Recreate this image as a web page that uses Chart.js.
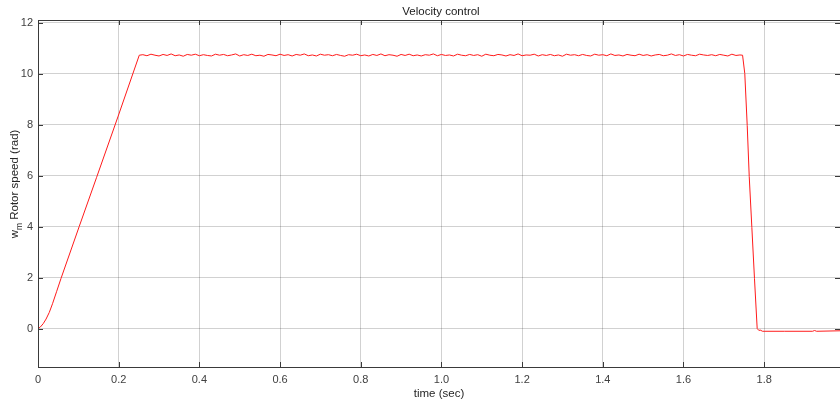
<!DOCTYPE html>
<html>
<head>
<meta charset="utf-8">
<script src="https://cdn.jsdelivr.net/npm/chart.js@4/dist/chart.umd.min.js"></script>
<style>
  body { margin: 0; background: #fff; }
  #wrap { width: 840px; height: 403px; position: relative; }
</style>
</head>
<body>
<div id="wrap"><canvas id="vitesse"></canvas></div>
<script>
// textes du graphique
var chartTitle = 'Velocity control';
var xLabel = 'time (sec)';
var yLabelMain = 'w';
var yLabelSub = 'm';
var yLabelRest = ' Rotor speed (rad)';

// graduations
var xTicks = [0, 0.2, 0.4, 0.6, 0.8, 1, 1.2, 1.4, 1.6, 1.8];
var yTicks = [0, 2, 4, 6, 8, 10, 12];

// montee (rampe)
var rampTimes  = [0, 0.006, 0.013, 0.02, 0.028, 0.036, 0.046, 0.057, 0.102, 0.145, 0.198, 0.251];
var rampValues = [0, 0.07, 0.2, 0.38, 0.64, 0.98, 1.45, 1.97, 4.0, 5.92, 8.3, 10.72];

// palier (vitesse stable avec ondulation)
var plateauTimes = [
  0.26, 0.27, 0.28, 0.29, 0.30, 0.31, 0.32, 0.33, 0.34, 0.35,
  0.36, 0.37, 0.38, 0.39, 0.40, 0.41, 0.42, 0.43, 0.44, 0.45,
  0.46, 0.47, 0.48, 0.49, 0.50, 0.51, 0.52, 0.53, 0.54, 0.55,
  0.56, 0.57, 0.58, 0.59, 0.60, 0.61, 0.62, 0.63, 0.64, 0.65,
  0.66, 0.67, 0.68, 0.69, 0.70, 0.71, 0.72, 0.73, 0.74, 0.75,
  0.76, 0.77, 0.78, 0.79, 0.80, 0.81, 0.82, 0.83, 0.84, 0.85,
  0.86, 0.87, 0.88, 0.89, 0.90, 0.91, 0.92, 0.93, 0.94, 0.95,
  0.96, 0.97, 0.98, 0.99, 1.00, 1.01, 1.02, 1.03, 1.04, 1.05,
  1.06, 1.07, 1.08, 1.09, 1.10, 1.11, 1.12, 1.13, 1.14, 1.15,
  1.16, 1.17, 1.18, 1.19, 1.20, 1.21, 1.22, 1.23, 1.24, 1.25,
  1.26, 1.27, 1.28, 1.29, 1.30, 1.31, 1.32, 1.33, 1.34, 1.35,
  1.36, 1.37, 1.38, 1.39, 1.40, 1.41, 1.42, 1.43, 1.44, 1.45,
  1.46, 1.47, 1.48, 1.49, 1.50, 1.51, 1.52, 1.53, 1.54, 1.55,
  1.56, 1.57, 1.58, 1.59, 1.60, 1.61, 1.62, 1.63, 1.64, 1.65,
  1.66, 1.67, 1.68, 1.69, 1.70, 1.71, 1.72, 1.73, 1.74
];
var plateauValues = [
  10.74, 10.70, 10.76, 10.72, 10.69, 10.75, 10.71, 10.77, 10.70, 10.73,
  10.68, 10.75, 10.72, 10.76, 10.70, 10.74, 10.71, 10.69, 10.76, 10.72,
  10.75, 10.70, 10.73, 10.77, 10.69, 10.74, 10.71, 10.76, 10.70, 10.72,
  10.68, 10.75, 10.73, 10.70, 10.76, 10.71, 10.74, 10.69, 10.75, 10.72,
  10.77, 10.70, 10.73, 10.69, 10.76, 10.72, 10.74, 10.70, 10.75, 10.71,
  10.68, 10.74, 10.72, 10.76, 10.70, 10.73, 10.69, 10.75, 10.71, 10.77,
  10.70, 10.74, 10.72, 10.68, 10.75, 10.71, 10.76, 10.70, 10.73, 10.69,
  10.74, 10.72, 10.77, 10.70, 10.75, 10.71, 10.73, 10.69, 10.76, 10.72,
  10.70, 10.75, 10.71, 10.74, 10.68, 10.76, 10.72, 10.70, 10.75, 10.73,
  10.69, 10.74, 10.71, 10.77, 10.70, 10.73, 10.72, 10.76, 10.69, 10.74,
  10.71, 10.75, 10.70, 10.73, 10.68, 10.76, 10.72, 10.74, 10.70, 10.75,
  10.71, 10.69, 10.76, 10.72, 10.74, 10.70, 10.77, 10.71, 10.73, 10.69,
  10.75, 10.72, 10.70, 10.76, 10.71, 10.74, 10.69, 10.73, 10.75, 10.70,
  10.72, 10.77, 10.71, 10.74, 10.69, 10.75, 10.72, 10.70, 10.76, 10.73,
  10.71, 10.74, 10.70, 10.75, 10.72, 10.69, 10.76, 10.71, 10.73
];

// descente et arret
var dropTimes  = [1.7465, 1.752, 1.758, 1.763, 1.7695, 1.776, 1.7827, 1.787, 1.79, 1.796, 1.85, 1.92, 1.925, 1.93, 1.99];
var dropValues = [10.72, 10.0, 7.97, 5.97, 3.97, 1.97, 0.01, -0.07, -0.05, -0.1, -0.1, -0.1, -0.07, -0.1, -0.08];

// assembler les points {x, y}
var allTimes = rampTimes.concat(plateauTimes, dropTimes);
var allValues = rampValues.concat(plateauValues, dropValues);
var points = allTimes.map(function (t, i) { return { x: t, y: allValues[i] }; });

var tickFont = { family: '"Liberation Sans", Arial, sans-serif', size: 11 };
var labelFont = '11.5px "Liberation Sans", Arial, sans-serif';
var subFont = '8.5px "Liberation Sans", Arial, sans-serif';
var axisColor = '#404040';

// plugin : cadre, graduations interieures, titre et etiquettes d'axes
var matlabLook = {
  id: 'matlabLook',
  afterDraw: function (chart) {
    var c = chart.ctx;
    var a = chart.chartArea;
    var xs = chart.scales.x;
    var ys = chart.scales.y;
    c.save();
    c.strokeStyle = '#3a3a3a';
    c.lineWidth = 1;
    c.strokeRect(a.left + 0.5, a.top + 0.5, a.right - a.left, a.bottom - a.top);
    c.beginPath();
    xTicks.forEach(function (v) {
      var px = Math.round(xs.getPixelForValue(v)) + 0.5;
      c.moveTo(px, a.bottom); c.lineTo(px, a.bottom - 5);
      c.moveTo(px, a.top); c.lineTo(px, a.top + 5);
    });
    yTicks.forEach(function (v) {
      var py = Math.round(ys.getPixelForValue(v)) + 0.5;
      c.moveTo(a.left, py); c.lineTo(a.left + 5, py);
      c.moveTo(a.right, py); c.lineTo(a.right - 5, py);
    });
    c.stroke();

    c.fillStyle = '#1a1a1a';
    c.font = labelFont;
    c.textAlign = 'center';
    c.textBaseline = 'middle';
    c.fillText(chartTitle, (a.left + a.right) / 2 + 2, 12);
    c.fillStyle = '#262626';
    c.fillText(xLabel, (a.left + a.right) / 2, 394);

    // etiquette y avec indice
    c.translate(15, 184);
    c.rotate(-Math.PI / 2);
    c.textAlign = 'left';
    var wMain = c.measureText(yLabelMain).width;
    var wRest = c.measureText(yLabelRest).width;
    c.font = subFont;
    var wSub = c.measureText(yLabelSub).width;
    var start = -(wMain + wSub + wRest) / 2;
    c.font = labelFont;
    c.fillText(yLabelMain, start, 0);
    c.font = subFont;
    c.fillText(yLabelSub, start + wMain, 4.5);
    c.font = labelFont;
    c.fillText(yLabelRest, start + wMain + wSub, 0);
    c.restore();
  }
};

var ctx = document.getElementById('vitesse').getContext('2d');
var speedChart = new Chart(ctx, {
  type: 'line',
  data: {
    datasets: [{
      label: 'w_m',
      data: points,
      borderColor: '#ff1a1a',
      borderWidth: 1,
      pointRadius: 0,
      tension: 0,
      fill: false
    }]
  },
  options: {
    responsive: true,
    maintainAspectRatio: false,
    animation: false,
    layout: { padding: { top: 20, right: 0, left: 0, bottom: 0 } },
    plugins: {
      legend: { display: false },
      tooltip: { enabled: false }
    },
    scales: {
      x: {
        type: 'linear',
        min: 0,
        max: 1.988,
        afterBuildTicks: function (scale) {
          scale.ticks = xTicks.map(function (v) { return { value: v }; });
        },
        afterFit: function (scale) { scale.height = 36; },
        grid: { color: 'rgba(0,0,0,0.18)', lineWidth: 1, drawTicks: false },
        border: { display: false },
        ticks: { color: axisColor, font: tickFont, padding: 6, maxRotation: 0 }
      },
      y: {
        min: -1.5,
        max: 12.1,
        afterBuildTicks: function (scale) {
          scale.ticks = yTicks.map(function (v) { return { value: v }; });
        },
        afterFit: function (scale) { scale.width = 38; },
        grid: { color: 'rgba(0,0,0,0.18)', lineWidth: 1, drawTicks: false },
        border: { display: false },
        ticks: { color: axisColor, font: tickFont, padding: 5 }
      }
    }
  },
  plugins: [matlabLook]
});
</script>
</body>
</html>
